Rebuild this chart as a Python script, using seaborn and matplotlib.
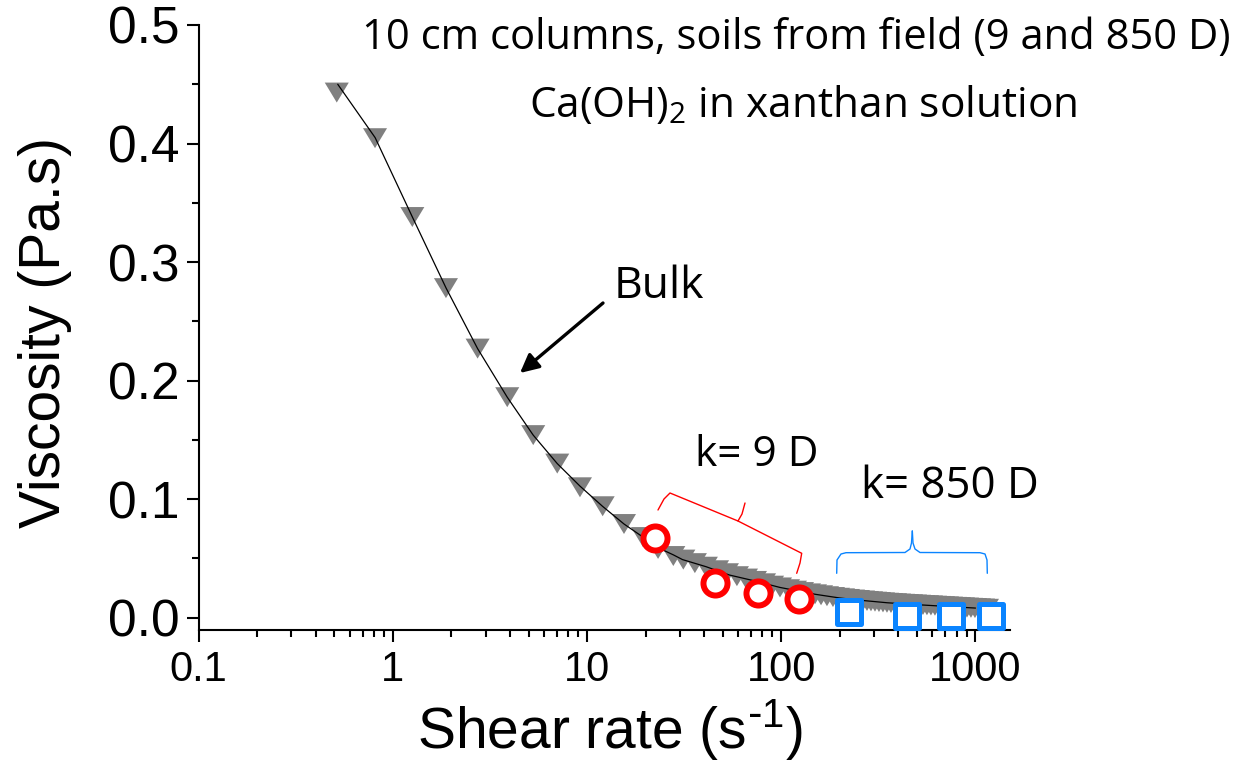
import numpy as np
import pandas as pd
import matplotlib
matplotlib.use("Agg")
import matplotlib.pyplot as plt
from matplotlib.path import Path
from matplotlib.ticker import LogLocator, NullFormatter, MultipleLocator
import seaborn as sns

# ---------------- data ----------------
bulk_rate = [0.514, 0.809, 1.259, 1.876, 2.73, 3.88, 5.28, 7.02, 9.19, 12.03,
             15.49, 19.4, 23.2, 27.8, 31.3, 35.9, 40.9, 46.7, 52.5, 59.1,
             65.8, 73.2, 81.5, 89.6, 98.5, 108.3, 117.6, 127.8, 138.9, 149.1,
             160.2, 171.9, 184.6, 195.9, 207.8, 220.5, 234.0, 248.3, 263.5, 276.3,
             289.7, 303.8, 318.5, 334.0, 350.2, 367.2, 385.0, 403.7, 423.3, 443.8,
             465.4, 488.0, 511.6, 536.5, 562.5, 589.8, 618.5, 648.5, 680.0, 713.0,
             747.5, 783.8, 822.2, 862.0, 904.0, 948.0, 994.0, 1042.0, 1093.0, 1146.0]
bulk_visc = [0.443, 0.4045, 0.338, 0.278, 0.227, 0.186, 0.154, 0.130, 0.110, 0.094,
             0.079, 0.068, 0.058, 0.052, 0.049, 0.046, 0.043, 0.040, 0.0375, 0.0350,
             0.0330, 0.0310, 0.0290, 0.0270, 0.0255, 0.0240, 0.0228, 0.0216, 0.0205, 0.0197,
             0.0189, 0.0181, 0.0174, 0.0168, 0.0163, 0.0158, 0.0153, 0.0149, 0.0145, 0.0141,
             0.0138, 0.0135, 0.0132, 0.0129, 0.0126, 0.0124, 0.0122, 0.0119, 0.0117, 0.0115,
             0.0113, 0.0111, 0.0109, 0.0107, 0.0105, 0.0103, 0.0101, 0.0099, 0.0097, 0.0095,
             0.0093, 0.0091, 0.0089, 0.0087, 0.0085, 0.0083, 0.0081, 0.0079, 0.0077, 0.0075]

fit_rate = [0.52, 0.81, 1.26, 1.88, 2.73, 3.88, 5.28, 7.02, 9.19, 12.0, 15.5, 19.4,
            23.2, 27.8, 31.0, 41.0, 54.0, 73.0, 98.5, 150.0, 200.0, 263.0, 350.0,
            450.0, 600.0, 800.0, 1000.0]
fit_visc = [0.450, 0.405, 0.338, 0.278, 0.227, 0.186, 0.154, 0.130, 0.111, 0.094, 0.079, 0.068,
            0.059, 0.053, 0.049, 0.043, 0.036, 0.031, 0.0255, 0.0197, 0.0166, 0.0145, 0.0126,
            0.0114, 0.0102, 0.0090, 0.0081]

k9_rate = [22.5, 45.6, 76.2, 123.0]
k9_visc = [0.067, 0.029, 0.0205, 0.016]

k850_rate = [224.0, 445.0, 745.0, 1197.0]
k850_visc = [0.0048, 0.0014, 0.0014, 0.0014]

y_ticks = [0.0, 0.1, 0.2, 0.3, 0.4, 0.5]
y_ticklabels = ["0.0", "0.1", "0.2", "0.3", "0.4", "0.5"]
x_ticks = [0.1, 1, 10, 100, 1000]
x_ticklabels = ["0.1", "1", "10", "100", "1000"]

# ---------------- style ----------------
sns.set_style("ticks")
plt.rcParams["font.family"] = ["Liberation Sans", "DejaVu Sans"]
plt.rcParams["mathtext.default"] = "regular"

W, H = 1253, 771
fig = plt.figure(figsize=(W / 100, H / 100), dpi=100)
ax = fig.add_axes([198.7 / W, 1 - 630 / H, (1010 - 198.7) / W, (630 - 25) / H])


def fx(px):
    return px / W


def fy(py):
    return 1 - py / H


bulk = pd.DataFrame({"rate": bulk_rate, "visc": bulk_visc})
fit = pd.DataFrame({"rate": fit_rate, "visc": fit_visc})
k9 = pd.DataFrame({"rate": k9_rate, "visc": k9_visc})
k850 = pd.DataFrame({"rate": k850_rate, "visc": k850_visc})

tri = Path([(-1, 0.83), (1, 0.83), (0, -0.83), (-1, 0.83)],
           [Path.MOVETO, Path.LINETO, Path.LINETO, Path.CLOSEPOLY])

sns.scatterplot(data=bulk, x="rate", y="visc", marker=tri, s=300, color="#808080",
                edgecolor="none", linewidth=0, ax=ax, zorder=2, legend=False)
sns.lineplot(data=fit, x="rate", y="visc", color="black", lw=0.9, ax=ax,
             zorder=3, sort=False, estimator=None, legend=False)
sns.scatterplot(data=k9, x="rate", y="visc", marker="o", s=300, facecolor="white",
                edgecolor="#ff0000", linewidth=4.3, ax=ax, zorder=4, legend=False)
sns.scatterplot(data=k850, x="rate", y="visc", marker="s", s=275, facecolor="white",
                edgecolor="#0a84ff", linewidth=3.6, ax=ax, zorder=5, legend=False)

ax.set_xscale("log")
ax.set_xlim(0.1, 1506)
ax.set_ylim(-0.0104, 0.5)
ax.set_xticks(x_ticks)
ax.set_xticklabels(x_ticklabels)
ax.xaxis.set_minor_locator(LogLocator(base=10, subs=np.arange(2, 10)))
ax.xaxis.set_minor_formatter(NullFormatter())
ax.set_yticks(y_ticks)
ax.set_yticklabels(y_ticklabels)
ax.yaxis.set_minor_locator(MultipleLocator(0.05))

ax.tick_params(which="major", direction="out", length=8.6, width=1.5,
               color="black", labelcolor="black")
ax.tick_params(axis="x", which="major", pad=6, labelsize=30)
ax.tick_params(axis="y", which="major", pad=5, labelsize=37)
ax.tick_params(which="minor", direction="out", length=5, width=1.5, color="black")

for side in ["top", "right"]:
    ax.spines[side].set_visible(False)
for side in ["left", "bottom"]:
    ax.spines[side].set_linewidth(1.5)
    ax.spines[side].set_color("black")

ax.set_xlabel("Shear rate (s$^{\\text{-}1}$)", fontsize=41, color="black")
ax.set_ylabel("Viscosity (Pa.s)", fontsize=41, color="black")
ax.xaxis.set_label_coords((610 - 198.7) / (1010 - 198.7), -(730 - 630) / (630 - 25))
ax.xaxis.label.set_va("center")
ax.yaxis.set_label_coords((45 - 198.7) / (1010 - 198.7), (630 - 333) / (630 - 25))
ax.yaxis.label.set_va("center")

# ---------------- annotations ----------------
ann_font = ["Open Sans", "DejaVu Sans"]
fig.text(fx(796), fy(38), "10 cm columns, soils from field (9 and 850 D)",
         ha="center", va="center", fontsize=30, family=ann_font, color="black")
fig.text(fx(803), fy(106), "Ca(OH)$_2$ in xanthan solution",
         ha="center", va="center", fontsize=30.5, family=ann_font, color="black")
fig.text(fx(659), fy(287), "Bulk", ha="center", va="center", fontsize=32,
         family=ann_font, color="black")
fig.text(fx(757), fy(455), "k= 9 D", ha="center", va="center", fontsize=30.5,
         family=ann_font, color="black")
fig.text(fx(950), fy(487), "k= 850 D", ha="center", va="center", fontsize=31.5,
         family=ann_font, color="black")

ax.annotate("", xy=(fx(520), fy(373)), xycoords="figure fraction",
            xytext=(fx(603), fy(303)), textcoords="figure fraction",
            arrowprops=dict(arrowstyle="-|>", lw=2.4, color="black",
                            mutation_scale=28, shrinkA=0, shrinkB=0))

# curly braces (figure pixel coordinates)
red_brace = [[(658, 510), (664, 499), (670, 493), (738, 521), (742, 514), (745, 503)],
             [(738, 521), (801.7, 553.3), (800, 563), (796.7, 573.3)]]
blue_brace = [[(836.7, 573.3), (837, 560), (841, 554), (846, 552.7), (905, 552.5),
               (910, 549), (911.5, 543), (912.3, 531)],
              [(912.3, 531), (913, 543), (915, 549), (920, 552.5), (980, 552.7),
               (985, 554), (987, 560), (987.3, 573.3)]]
for segs, col in [(red_brace, "#ff0000"), (blue_brace, "#0a84ff")]:
    for seg in segs:
        xs = [fx(p[0]) for p in seg]
        ys = [fy(p[1]) for p in seg]
        fig.add_artist(plt.Line2D(xs, ys, color=col, lw=1.0,
                                  transform=fig.transFigure,
                                  solid_joinstyle="round"))

fig.savefig("out.png", dpi=100, facecolor="white")
